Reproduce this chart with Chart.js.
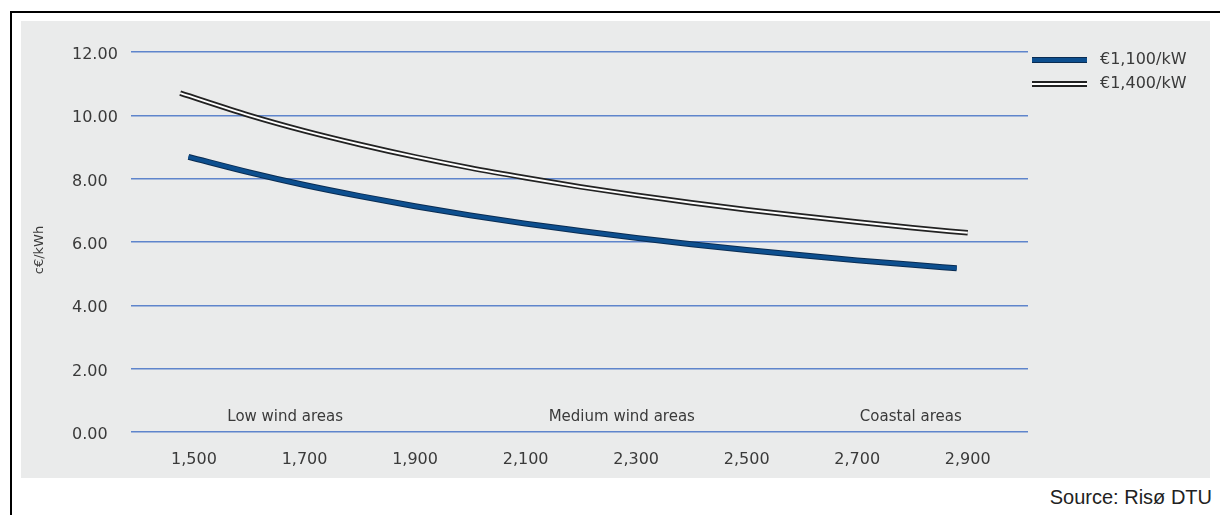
<!DOCTYPE html>
<html lang="en">
<head>
  <meta charset="UTF-8">
  <title>Cost of wind power by wind regime</title>
  <style>
    html, body {
      margin: 0;
      padding: 0;
      width: 1220px;
      height: 515px;
      overflow: hidden;
      background: #ffffff;
    }

    .frame {
      position: absolute;
      left: 10px;
      top: 11px;
      width: 1300px;
      height: 600px;
      border-left: 2.5px solid #000;
      border-top: 2.5px solid #000;
    }

    .panel {
      position: absolute;
      left: 21px;
      top: 21px;
      width: 1189px;
      height: 457px;
      background-color: #eaebeb;
    }

    .source {
      position: absolute;
      right: 8px;
      top: 486px;
      font-family: "Liberation Sans Narrow", "Liberation Sans", sans-serif;
      font-size: 20px;
      color: #222;
    }

    #chartBox {
      position: absolute;
      left: 0;
      top: 0;
      width: 1220px;
      height: 515px;
    }
  </style>
</head>
<body>
  <div class="frame"></div>
  <div class="panel"></div>
  <div class="source">Source: Risø DTU</div>
  <div id="chartBox"><canvas id="costChart"></canvas></div>

  <script src="https://cdn.jsdelivr.net/npm/chart.js"></script>
  <script>
    // full-load hours (x) and cost in c€/kWh
    const hours1100 = [1490, 1600, 1700, 1800, 1900, 2000, 2100, 2200, 2300, 2400, 2500, 2600, 2700, 2800, 2880];
    const cost1100 = [8.69, 8.20, 7.80, 7.45, 7.13, 6.84, 6.58, 6.35, 6.13, 5.93, 5.75, 5.58, 5.42, 5.28, 5.17];

    const hours1400 = [1475, 1600, 1700, 1800, 1900, 2000, 2100, 2200, 2300, 2400, 2500, 2600, 2700, 2800, 2900];
    const cost1400 = [10.70, 10.00, 9.51, 9.08, 8.69, 8.34, 8.03, 7.74, 7.48, 7.24, 7.02, 6.82, 6.63, 6.45, 6.29];

    const seriesNames = ['€1,100/kW', '€1,400/kW'];
    const xTicks = [1500, 1700, 1900, 2100, 2300, 2500, 2700, 2900];
    const yTicks = [0, 2, 4, 6, 8, 10, 12];

    const areaNames = ['Low wind areas', 'Medium wind areas', 'Coastal areas'];
    const areaPos = [1665, 2274, 2797];

    const yTitle = 'c€/kWh';

    const toPoints = (xs, ys) => xs.map((x, i) => ({ x: x, y: ys[i] }));

    const blue = '#0d4f8f';
    const blueEdge = '#0a2c52';
    const gridBlue = '#5f85cc';
    const textColor = '#3a3a3a';

    // area names, axis title and legend drawn on the canvas
    const extras = {
      id: 'extras',
      afterDraw(chart) {
        const ctx = chart.ctx;
        const xs = chart.scales.x;
        const ys = chart.scales.y;
        ctx.save();
        ctx.fillStyle = textColor;
        ctx.font = '15px "DejaVu Sans"';
        ctx.textAlign = 'center';
        ctx.textBaseline = 'middle';
        areaNames.forEach((name, i) => {
          ctx.fillText(name, xs.getPixelForValue(areaPos[i]), ys.getPixelForValue(0) - 15);
        });

        ctx.translate(40, 250);
        ctx.rotate(-Math.PI / 2);
        ctx.font = '13px "DejaVu Sans"';
        ctx.fillText(yTitle, 0, 0);
        ctx.restore();

        // legend
        ctx.save();
        ctx.lineCap = 'butt';
        ctx.strokeStyle = blueEdge;
        ctx.lineWidth = 6;
        ctx.beginPath(); ctx.moveTo(1032, 60); ctx.lineTo(1087, 60); ctx.stroke();
        ctx.strokeStyle = blue;
        ctx.lineWidth = 4;
        ctx.beginPath(); ctx.moveTo(1032, 60); ctx.lineTo(1087, 60); ctx.stroke();
        ctx.strokeStyle = '#222';
        ctx.lineWidth = 6;
        ctx.beginPath(); ctx.moveTo(1032, 84); ctx.lineTo(1087, 84); ctx.stroke();
        ctx.strokeStyle = '#fff';
        ctx.lineWidth = 2.2;
        ctx.beginPath(); ctx.moveTo(1032, 84); ctx.lineTo(1087, 84); ctx.stroke();

        ctx.fillStyle = textColor;
        ctx.font = '16px "DejaVu Sans"';
        ctx.textAlign = 'left';
        ctx.textBaseline = 'middle';
        ctx.fillText(seriesNames[0], 1100, 60);
        ctx.fillText(seriesNames[1], 1100, 84);
        ctx.restore();
      }
    };

    const lineStyle = {
      pointRadius: 0,
      fill: false,
      cubicInterpolationMode: 'monotone',
      borderCapStyle: 'butt'
    };

    const ctx = document.getElementById('costChart').getContext('2d');
    const chart = new Chart(ctx, {
      type: 'line',
      data: {
        datasets: [
          Object.assign({ label: seriesNames[0], data: toPoints(hours1100, cost1100), borderColor: blue, borderWidth: 4, order: 0 }, lineStyle),
          Object.assign({ label: seriesNames[0] + ' edge', data: toPoints(hours1100, cost1100), borderColor: blueEdge, borderWidth: 6, order: 1 }, lineStyle),
          Object.assign({ label: seriesNames[1], data: toPoints(hours1400, cost1400), borderColor: '#ffffff', borderWidth: 2, order: 2 }, lineStyle),
          Object.assign({ label: seriesNames[1] + ' edge', data: toPoints(hours1400, cost1400), borderColor: '#222', borderWidth: 5.5, order: 3 }, lineStyle)
        ]
      },
      options: {
        responsive: true,
        maintainAspectRatio: false,
        animation: false,
        layout: {
          padding: { left: 72, top: 52, right: 192, bottom: 33 }
        },
        plugins: {
          legend: { display: false },
          tooltip: { enabled: false }
        },
        scales: {
          x: {
            type: 'linear',
            min: 1386,
            max: 3009,
            afterBuildTicks(scale) {
              scale.ticks = xTicks.map(v => ({ value: v }));
            },
            afterFit(scale) {
              scale.height = 50;
            },
            grid: { display: false },
            border: { display: false },
            ticks: {
              padding: 10,
              maxRotation: 0,
              color: textColor,
              font: { family: 'DejaVu Sans', size: 16 },
              callback: v => v.toLocaleString('en-US')
            }
          },
          y: {
            min: 0,
            max: 12,
            afterBuildTicks(scale) {
              scale.ticks = yTicks.map(v => ({ value: v }));
            },
            afterFit(scale) {
              scale.width = 59;
            },
            grid: { color: gridBlue, lineWidth: 1.5, drawTicks: false },
            border: { display: false },
            ticks: {
              crossAlign: 'far',
              labelOffset: 3,
              color: textColor,
              font: { family: 'DejaVu Sans', size: 16 },
              callback: v => v.toFixed(2)
            }
          }
        }
      },
      plugins: [extras]
    });
  </script>
</body>
</html>
